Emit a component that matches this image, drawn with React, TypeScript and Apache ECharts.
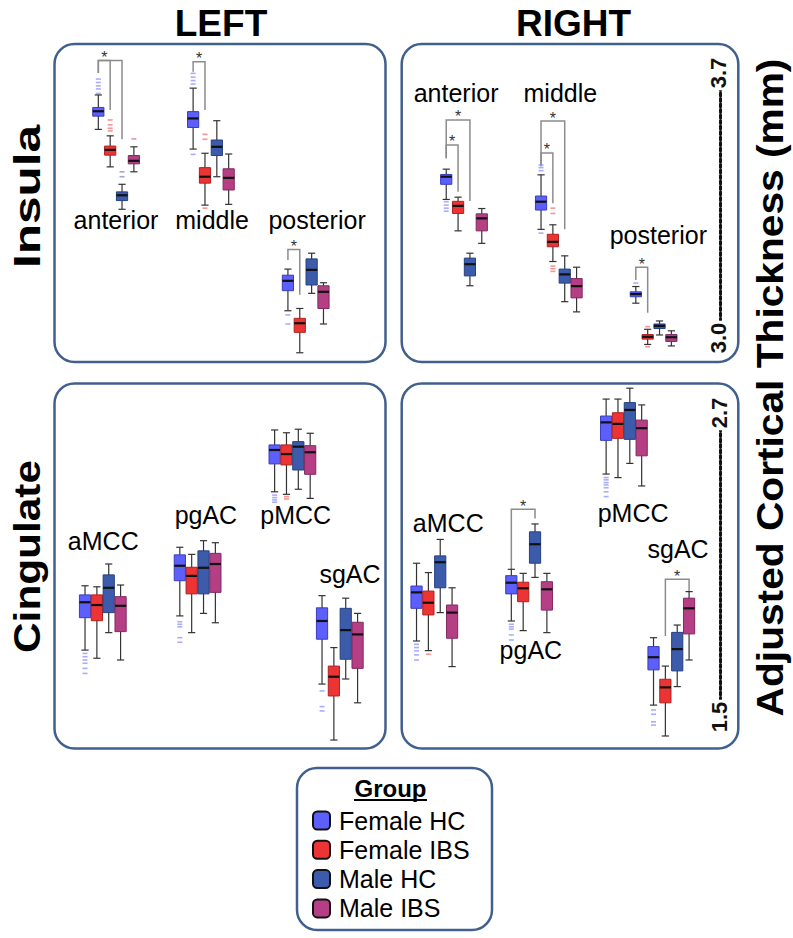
import React, { useEffect, useRef } from 'react';
import * as echarts from 'echarts';

// ---------------- data ----------------
const groups = ['Female HC', 'Female IBS', 'Male HC', 'Male IBS'];
const insulaRegions = ['anterior', 'middle', 'posterior'];
const cingulateRegions = ['aMCC', 'pgAC', 'pMCC', 'sgAC'];
const insulaTicks = [3.0, 3.7];
const cingulateTicks = [1.5, 2.7];

// box statistics per region: [min, Q1, median, Q3, max]
const insulaLeftFemaleHC = [[3.551, 3.586, 3.599, 3.609, 3.642], [3.499, 3.556, 3.58, 3.598, 3.66], [3.072, 3.125, 3.151, 3.166, 3.182]];
const insulaLeftFemaleIBS = [[3.452, 3.483, 3.497, 3.507, 3.534], [3.351, 3.409, 3.426, 3.45, 3.488], [2.961, 3.015, 3.039, 3.052, 3.078]];
const insulaLeftMaleHC = [[3.34, 3.363, 3.377, 3.386, 3.406], [3.426, 3.482, 3.505, 3.523, 3.574], [3.118, 3.14, 3.18, 3.209, 3.224]];
const insulaLeftMaleIBS = [[3.439, 3.46, 3.468, 3.482, 3.505], [3.353, 3.391, 3.423, 3.447, 3.486], [3.037, 3.078, 3.122, 3.138, 3.146]];

const insulaRightFemaleHC = [[3.366, 3.406, 3.426, 3.432, 3.446], [3.287, 3.338, 3.36, 3.375, 3.431], [3.092, 3.109, 3.116, 3.122, 3.136]];
const insulaRightFemaleIBS = [[3.283, 3.329, 3.349, 3.361, 3.372], [3.202, 3.241, 3.254, 3.274, 3.299], [2.983, 2.997, 3.003, 3.009, 3.023]];
const insulaRightMaleHC = [[3.138, 3.164, 3.195, 3.211, 3.224], [3.096, 3.145, 3.168, 3.182, 3.217], [3.008, 3.025, 3.032, 3.037, 3.045]];
const insulaRightMaleIBS = [[3.25, 3.283, 3.316, 3.328, 3.342], [3.069, 3.106, 3.137, 3.157, 3.187], [2.979, 2.991, 3.002, 3.009, 3.019]];

const cingulateLeftFemaleHC = [[1.764, 1.892, 1.953, 1.982, 2.018], [1.899, 2.038, 2.097, 2.14, 2.17], [2.389, 2.499, 2.554, 2.574, 2.633], [1.63, 1.807, 1.879, 1.931, 1.979]];
const cingulateLeftFemaleIBS = [[1.732, 1.88, 1.942, 1.982, 2.014], [1.833, 1.986, 2.057, 2.091, 2.142], [2.379, 2.495, 2.538, 2.574, 2.622], [1.409, 1.583, 1.659, 1.701, 1.774]];
const cingulateLeftMaleHC = [[1.833, 1.912, 2.01, 2.061, 2.104], [1.909, 1.986, 2.089, 2.156, 2.196], [2.399, 2.475, 2.567, 2.587, 2.636], [1.65, 1.728, 1.843, 1.929, 1.969]];
const cingulateLeftMaleIBS = [[1.725, 1.837, 1.939, 1.975, 2.021], [1.872, 1.992, 2.104, 2.146, 2.188], [2.363, 2.458, 2.545, 2.571, 2.62], [1.556, 1.692, 1.826, 1.874, 1.909]];

const cingulateRightFemaleHC = [[1.8, 1.929, 1.992, 2.017, 2.107], [1.879, 1.986, 2.03, 2.058, 2.083], [2.459, 2.592, 2.663, 2.688, 2.755], [1.547, 1.686, 1.736, 1.778, 1.813]];
const cingulateRightFemaleIBS = [[1.762, 1.903, 1.951, 1.997, 2.07], [1.841, 1.955, 2.008, 2.032, 2.067], [2.445, 2.6, 2.657, 2.701, 2.755], [1.425, 1.556, 1.617, 1.649, 1.701]];
const cingulateRightMaleHC = [[1.912, 2.01, 2.111, 2.136, 2.201], [2.051, 2.107, 2.182, 2.231, 2.262], [2.501, 2.596, 2.712, 2.741, 2.798], [1.62, 1.682, 1.768, 1.834, 1.863]];
const cingulateRightMaleIBS = [[1.699, 1.811, 1.912, 1.942, 2.01], [1.833, 1.922, 2.004, 2.034, 2.067], [2.412, 2.531, 2.64, 2.672, 2.732], [1.725, 1.828, 1.929, 1.969, 1.995]];

// outliers: [regionIndex, groupIndex, value]
const insulaLeftOutliers = [
  [0, 0, 3.684], [0, 0, 3.675], [0, 0, 3.666], [0, 0, 3.658], [0, 0, 3.646],
  [0, 1, 3.576], [0, 1, 3.563], [0, 1, 3.554], [0, 1, 3.547],
  [0, 2, 3.439], [0, 2, 3.426], [0, 3, 3.526],
  [1, 0, 3.699], [1, 0, 3.689], [1, 0, 3.68], [1, 0, 3.671], [1, 0, 3.485],
  [1, 1, 3.538], [1, 1, 3.525], [1, 1, 3.343],
  [2, 0, 3.061], [2, 0, 3.037],
];
const insulaRightOutliers = [
  [0, 0, 3.36], [0, 0, 3.351], [0, 0, 3.343], [0, 0, 3.335],
  [1, 0, 3.457], [1, 0, 3.45], [1, 0, 3.442], [1, 0, 3.277],
  [1, 1, 3.343], [1, 1, 3.329], [1, 1, 3.19], [1, 1, 3.183], [1, 1, 3.176],
  [2, 0, 3.145], [2, 1, 3.03], [2, 1, 2.977],
];
const cingulateLeftOutliers = [
  [0, 0, 1.751], [0, 0, 1.738], [0, 0, 1.725], [0, 0, 1.712], [0, 0, 1.692], [0, 0, 1.672],
  [1, 0, 1.876], [1, 0, 1.866], [1, 0, 1.856], [1, 0, 1.813], [1, 0, 1.795],
  [2, 0, 2.376], [2, 0, 2.366], [2, 0, 2.357], [2, 0, 2.348],
  [2, 1, 2.37], [2, 1, 2.361],
  [3, 0, 1.603], [3, 0, 1.541], [3, 0, 1.524],
];
const cingulateRightOutliers = [
  [0, 0, 1.787], [0, 0, 1.774], [0, 0, 1.761], [0, 0, 1.745], [0, 0, 1.725],
  [0, 1, 1.748],
  [1, 0, 1.866], [1, 0, 1.856], [1, 0, 1.847], [1, 0, 1.824], [1, 0, 1.804],
  [2, 0, 2.445], [2, 0, 2.436], [2, 0, 2.425], [2, 0, 2.416], [2, 0, 2.405], [2, 0, 2.389], [2, 0, 2.37],
  [3, 0, 1.528], [3, 0, 1.511], [3, 0, 1.481], [3, 0, 1.468],
];

// significance brackets: [region, groupA, groupB, topValue, endA, endB, star]
const insulaLeftBrackets = [
  [0, 0, 2, 3.733, 3.7, 3.525, 0],
  [0, 0, 1, 3.733, 3.7, 3.602, 1],
  [1, 0, 1, 3.73, 3.703, 3.602, 1],
  [2, 0, 1, 3.234, 3.206, 3.114, 1],
];
const insulaRightBrackets = [
  [0, 0, 1, 3.51, 3.475, 3.386, 1],
  [0, 0, 2, 3.576, 3.475, 3.362, 1],
  [1, 0, 1, 3.489, 3.454, 3.356, 1],
  [1, 0, 2, 3.573, 3.454, 3.287, 1],
  [2, 0, 1, 3.187, 3.153, 3.067, 1],
];
const cingulateLeftBrackets: number[][] = [];
const cingulateRightBrackets = [
  [1, 0, 2, 2.32, 2.083, 2.284, 1],
  [3, 1, 3, 2.044, 1.82, 1.997, 1],
];

// ---------------- layout / style ----------------
const FONT = '"Liberation Sans", Arial, Helvetica, sans-serif';
const groupFill = ['#5d5ffa', '#ec3434', '#3d5bab', '#b43f84'];
const groupStroke = ['#3a3dc0', '#b02020', '#26407f', '#83295f'];
const groupOutlier = ['#9597ff', '#f27a7a', '#8492c8', '#d57aa8'];
const panelBorder = '#41608d';
const SLOT_W = 11.85;
const GRID_W = SLOT_W * 24;

const panels = [
  {
    grid: { left: 92.4, top: 73, width: GRID_W, height: 265 },
    min: 3.0, max: 3.7, ticks: null as number[] | null, axisOffset: 0,
    regions: insulaRegions, starts: [0, 8, 16],
    boxes: [insulaLeftFemaleHC, insulaLeftFemaleIBS, insulaLeftMaleHC, insulaLeftMaleIBS],
    outliers: insulaLeftOutliers, brackets: insulaLeftBrackets,
    labelPos: [[1.49, 3.313], [9.6, 3.313], [18.46, 3.313]],
  },
  {
    grid: { left: 440.3, top: 73, width: GRID_W, height: 265 },
    min: 3.0, max: 3.7, ticks: insulaTicks, axisOffset: 719.8 - (440.3 + GRID_W),
    regions: insulaRegions, starts: [0, 8, 16],
    boxes: [insulaRightFemaleHC, insulaRightFemaleIBS, insulaRightMaleHC, insulaRightMaleIBS],
    outliers: insulaRightOutliers, brackets: insulaRightBrackets,
    labelPos: [[0.83, 3.647], [9.63, 3.647], [17.9, 3.271]],
  },
  {
    grid: { left: 79.1, top: 413, width: GRID_W, height: 304 },
    min: 1.5, max: 2.7, ticks: null as number[] | null, axisOffset: 0,
    regions: cingulateRegions, starts: [0, 8, 16, 20],
    boxes: [cingulateLeftFemaleHC, cingulateLeftFemaleIBS, cingulateLeftMaleHC, cingulateLeftMaleIBS],
    outliers: cingulateLeftOutliers, brackets: cingulateLeftBrackets,
    labelPos: [[1.54, 2.194], [10.2, 2.297], [17.78, 2.296], [22.36, 2.064]],
  },
  {
    grid: { left: 410.6, top: 413, width: GRID_W, height: 304 },
    min: 1.5, max: 2.7, ticks: cingulateTicks, axisOffset: 720 - (410.6 + GRID_W),
    regions: cingulateRegions, starts: [0, 8, 16, 20],
    boxes: [cingulateRightFemaleHC, cingulateRightFemaleIBS, cingulateRightMaleHC, cingulateRightMaleIBS],
    outliers: cingulateRightOutliers, brackets: cingulateRightBrackets,
    labelPos: [[2.68, 2.266], [9.65, 1.766], [18.28, 2.305], [22.07, 2.163]],
  },
];

function boxRenderer(g: number) {
  return (params: any, api: any) => {
    const x = api.value(0);
    const pMin = api.coord([x, api.value(1)]);
    const pQ1 = api.coord([x, api.value(2)]);
    const pMed = api.coord([x, api.value(3)]);
    const pQ3 = api.coord([x, api.value(4)]);
    const pMax = api.coord([x, api.value(5)]);
    const cx = pMin[0];
    const hw = 5.6;
    const cap = 3.6;
    const wStyle = { stroke: '#333', lineWidth: 1.2 };
    return {
      type: 'group',
      children: [
        { type: 'line', shape: { x1: cx, y1: pMax[1], x2: cx, y2: pMin[1] }, style: wStyle },
        { type: 'line', shape: { x1: cx - cap, y1: pMax[1], x2: cx + cap, y2: pMax[1] }, style: wStyle },
        { type: 'line', shape: { x1: cx - cap, y1: pMin[1], x2: cx + cap, y2: pMin[1] }, style: wStyle },
        {
          type: 'rect',
          shape: { x: cx - hw, y: pQ3[1], width: hw * 2, height: pQ1[1] - pQ3[1] },
          style: { fill: groupFill[g], stroke: groupStroke[g], lineWidth: 1 },
        },
        { type: 'line', shape: { x1: cx - hw, y1: pMed[1], x2: cx + hw, y2: pMed[1] }, style: { stroke: '#111', lineWidth: 2.2 } },
      ],
    };
  };
}

function bracketRenderer(params: any, api: any) {
  const xa = api.value(0);
  const xb = api.value(1);
  const top = api.value(2);
  const pTopA = api.coord([xa, top]);
  const pTopB = api.coord([xb, top]);
  const pA = api.coord([xa, api.value(3)]);
  const pB = api.coord([xb, api.value(4)]);
  const children: any[] = [
    {
      type: 'polyline',
      shape: { points: [pA, pTopA, pTopB, pB] },
      style: { stroke: '#8c8c8c', lineWidth: 1.5, fill: null },
    },
  ];
  if (api.value(5)) {
    children.push({
      type: 'text',
      x: (pTopA[0] + pTopB[0]) / 2,
      y: pTopA[1] - 3,
      style: {
        text: '*', fontSize: 16, fontFamily: FONT, fill: '#333',
        align: 'center', verticalAlign: 'middle', textAlign: 'center', textVerticalAlign: 'middle',
      },
    });
  }
  return { type: 'group', children };
}

function labelRenderer(names: string[]) {
  return (params: any, api: any) => {
    const p = api.coord([api.value(0), api.value(1)]);
    return {
      type: 'text',
      x: p[0],
      y: p[1],
      style: {
        text: names[params.dataIndex], fontSize: 25, fontFamily: FONT, fill: '#000',
        align: 'center', verticalAlign: 'middle', textAlign: 'center', textVerticalAlign: 'middle',
      },
    };
  };
}

function buildOption() {
  const grid = panels.map((p) => ({ ...p.grid, containLabel: false, outerBoundsMode: 'none' }));
  const xAxis = panels.map((p, i) => ({ gridIndex: i, type: 'value', min: -0.5, max: 23.5, show: false }));
  const yAxis = panels.map((p, i) => ({
    gridIndex: i,
    type: 'value',
    min: p.min,
    max: p.max,
    show: p.ticks != null,
    position: 'right',
    offset: p.axisOffset,
    splitLine: { show: false },
    axisTick: { show: false },
    axisLine: { show: true, onZero: false, lineStyle: { color: '#111', width: 3, type: [3, 2.5] } },
    axisLabel: {
      show: true,
      customValues: p.ticks || [],
      formatter: (v: number) => v.toFixed(1),
      rotate: 90,
      margin: -12,
      fontSize: 22,
      fontWeight: 'bold',
      fontFamily: FONT,
      color: '#111',
      backgroundColor: '#fff',
      padding: [0, 2],
    },
  }));

  const series: any[] = [];
  panels.forEach((p, i) => {
    groups.forEach((gName, g) => {
      series.push({
        type: 'custom',
        name: gName,
        xAxisIndex: i,
        yAxisIndex: i,
        itemStyle: { color: groupFill[g] },
        encode: { x: 0, y: [1, 2, 3, 4, 5] },
        data: p.boxes[g].map((s, r) => [p.starts[r] + g, ...s]),
        renderItem: boxRenderer(g),
        silent: true,
        z: 3,
      });
    });
    groups.forEach((gName, g) => {
      series.push({
        type: 'scatter',
        name: gName + ' outliers',
        xAxisIndex: i,
        yAxisIndex: i,
        symbol: 'rect',
        symbolSize: [5, 1.6],
        clip: false,
        silent: true,
        itemStyle: { color: groupOutlier[g] },
        data: p.outliers.filter((o) => o[1] === g).map((o) => [p.starts[o[0]] + o[1], o[2]]),
        z: 2,
      });
    });
    series.push({
      type: 'custom',
      name: 'brackets',
      xAxisIndex: i,
      yAxisIndex: i,
      silent: true,
      data: p.brackets.map((b) => [p.starts[b[0]] + b[1], p.starts[b[0]] + b[2], b[3], b[4], b[5], b[6]]),
      renderItem: bracketRenderer,
      z: 1,
    });
    series.push({
      type: 'custom',
      name: 'regions',
      xAxisIndex: i,
      yAxisIndex: i,
      silent: true,
      data: p.labelPos.map((pos) => [pos[0], pos[1]]),
      renderItem: labelRenderer(p.regions),
      z: 4,
    });
  });

  const rectStyle = { fill: 'none', stroke: panelBorder, lineWidth: 2.5 };
  const bigText = (text: string, x: number, y: number, rotation: number, scaleX: number) => ({
    type: 'text',
    x, y, rotation, scaleX,
    style: {
      text, fontSize: 37, fontWeight: 'bold', fontFamily: FONT, fill: '#000',
      align: 'center', verticalAlign: 'middle', textAlign: 'center', textVerticalAlign: 'middle',
    },
  });

  const graphic = [
    { type: 'rect', shape: { x: 54.5, y: 44, width: 331, height: 318, r: 20 }, style: rectStyle, silent: true },
    { type: 'rect', shape: { x: 401.7, y: 44, width: 336.6, height: 318, r: 20 }, style: rectStyle, silent: true },
    { type: 'rect', shape: { x: 54.5, y: 383.5, width: 331, height: 365, r: 20 }, style: rectStyle, silent: true },
    { type: 'rect', shape: { x: 401.7, y: 383.5, width: 336.6, height: 365, r: 20 }, style: rectStyle, silent: true },
    { type: 'rect', shape: { x: 297, y: 768, width: 195, height: 162, r: 20 }, style: rectStyle, silent: true },
    bigText('LEFT', 221, 23, 0, 1),
    bigText('RIGHT', 573.5, 23, 0, 1),
    bigText('Insula', 26.5, 196.5, Math.PI / 2, 1.34),
    bigText('Cingulate', 26.5, 556.5, Math.PI / 2, 1.145),
    bigText('Adjusted Cortical Thickness (mm)', 770, 387.5, Math.PI / 2, 1.1),
    {
      type: 'text', x: 390.5, y: 788,
      style: {
        text: 'Group', fontSize: 24, fontWeight: 'bold', fontFamily: FONT, fill: '#000',
        align: 'center', verticalAlign: 'middle', textAlign: 'center', textVerticalAlign: 'middle',
      },
    },
    { type: 'line', shape: { x1: 354, y1: 800, x2: 427, y2: 800 }, style: { stroke: '#000', lineWidth: 1.8 } },
  ];

  return {
    animation: false,
    backgroundColor: '#fff',
    textStyle: { fontFamily: FONT },
    grid,
    xAxis,
    yAxis,
    legend: {
      data: groups,
      orient: 'vertical',
      left: 312,
      top: 808,
      padding: 0,
      itemWidth: 17,
      itemHeight: 18,
      itemGap: 4.3,
      icon: 'roundRect',
      selectedMode: false,
      itemStyle: { borderColor: '#111', borderWidth: 2 },
      textStyle: { fontSize: 25, fontFamily: FONT, color: '#000', lineHeight: 24, padding: [0, 0, 0, 4] },
    },
    graphic,
    series,
  };
}

export default function App() {
  const ref = useRef<HTMLDivElement>(null);
  useEffect(() => {
    if (!ref.current) return;
    const chart = echarts.init(ref.current, undefined, { renderer: 'svg' });
    chart.setOption(buildOption() as any);
    return () => chart.dispose();
  }, []);
  return <div ref={ref} style={{ position: 'absolute', left: 0, top: 0, width: 793, height: 938 }} />;
}
